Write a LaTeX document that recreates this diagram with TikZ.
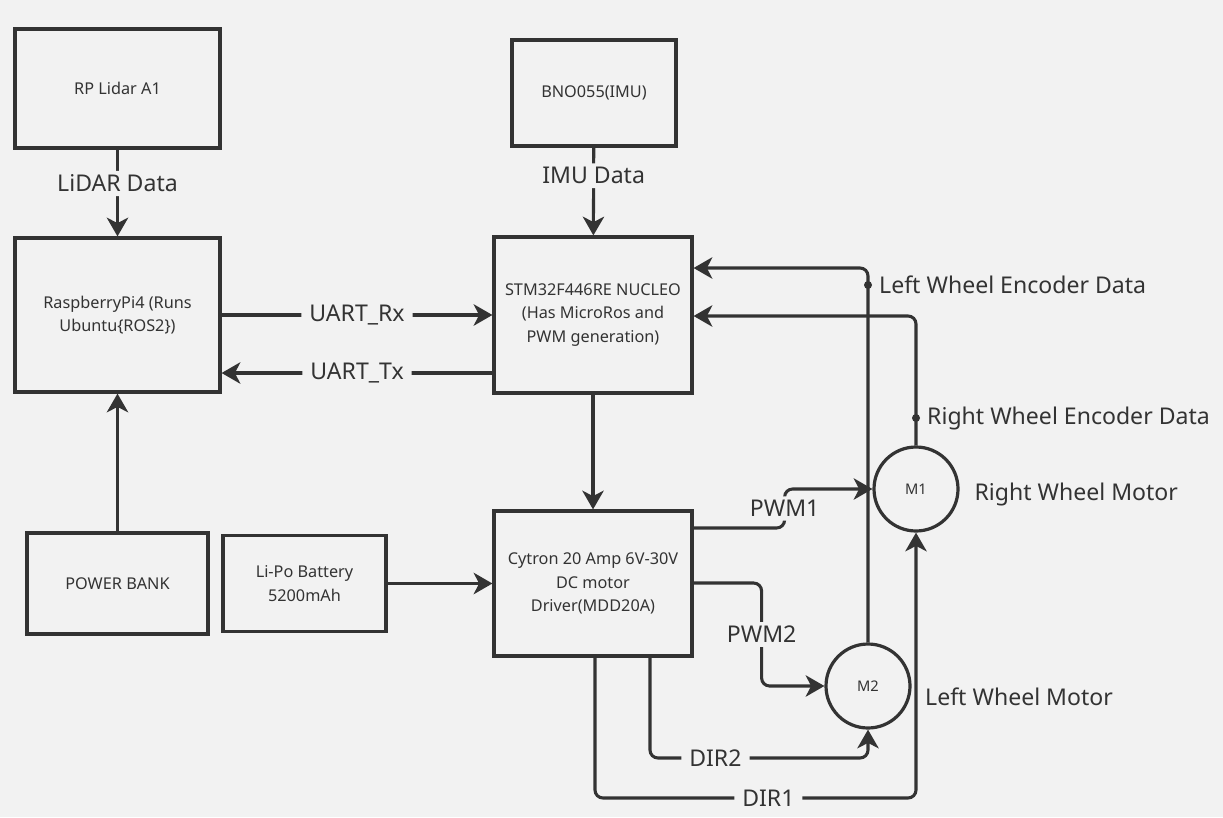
\documentclass[tikz,border=0pt]{standalone}
\usepackage{fontspec}
\setmainfont{Noto Sans}
\usetikzlibrary{arrows.meta, positioning, calc}

\definecolor{bg}{HTML}{F2F2F2}
\definecolor{ink}{HTML}{333333}

\begin{document}
\begin{tikzpicture}
  [
  x=0.75pt, y=-0.75pt,
  % blok
  block/.style = {rectangle, draw=ink, line width=2.4pt, text=ink,
    font=\fontsize{12.2}{17.5}\selectfont, align=center},
  % motor
  motor/.style = {circle, draw=ink, line width=2.4pt, text=ink,
    minimum size=63pt, inner sep=0pt, font=\fontsize{11}{12}\selectfont},
  % line
  line/.style = {draw=ink, line width=2.3pt, rounded corners=6pt,
    -{Stealth[length=14pt, width=16pt, inset=4pt]}},
  % label
  lbl/.style = {fill=bg, text=ink, inner xsep=6pt, inner ysep=3pt,
    font=\fontsize{17.3}{20}\selectfont},
  dot/.style = {circle, fill=ink, inner sep=0pt, minimum size=6pt},
  ]

  \useasboundingbox [fill=bg] (0,0) rectangle (1223,817);

  % nodes
  \node [block, minimum width=153.75pt, minimum height=89.25pt] (lidar) at (117.5,88.5) {RP Lidar A1};
  \node [block, minimum width=153.75pt, minimum height=115.5pt] (rpi) at (117.5,315) {RaspberryPi4 (Runs\\ Ubuntu\{ROS2\})};
  \node [block, minimum width=135.75pt, minimum height=75.75pt] (power) at (117.5,583.5) {POWER BANK};
  \node [block, minimum width=122.25pt, minimum height=72pt] (lipo) at (304.5,583.5) {Li-Po Battery\\ 5200mAh};
  \node [block, minimum width=123pt, minimum height=79.5pt] (bno) at (594,93) {BNO055(IMU)};
  \node [block, minimum width=148.5pt, minimum height=117pt] (stm) at (593,315) {STM32F446RE NUCLEO\\ (Has MicroRos and\\ PWM generation)};
  \node [block, minimum width=148.5pt, minimum height=108.75pt] (drv) at (593,583.5) {Cytron 20 Amp 6V-30V\\ DC motor\\ Driver(MDD20A)};
  \node [motor] (m1) at (916,489) {M1};
  \node [motor] (m2) at (868,686) {M2};

  % encoder titik
  \node [dot] (lenc) at (m2.north |- 0,285) {};
  \node [dot] (renc) at (m1.north |- 0,418) {};
  \node [lbl, fill=none, inner xsep=0pt, right=5pt of lenc] (lencl) {Left Wheel Encoder Data};
  \node [lbl, fill=none, inner xsep=0pt, right=5pt of renc] (rencl) {Right Wheel Encoder Data};
  \node [lbl, fill=none, inner xsep=0pt, right=11pt of m1, yshift=-4pt] (m1l) {Right Wheel Motor};
  \node [lbl, fill=none, inner xsep=0pt, right=10pt of m2, yshift=-8pt] (m2l) {Left Wheel Motor};

  % path
  \path [line] (lidar) -- node [lbl, pos=0.39] {LiDAR Data} (rpi);
  \path [line] (bno) -- node [lbl, pos=0.32] {IMU Data} (stm);
  \path [line] (rpi) -- node [lbl] {UART\_Rx} (stm);
  \path [line] (stm.west |- 0,373) -- node [lbl] {UART\_Tx} (rpi.east |- 0,373);
  \path [line] (power) -- (rpi);
  \path [line] (lipo) -- (drv);
  \path [line] (stm) -- (drv);
  % encoder balik ke stm
  \path [line] (m2.north) -- (lenc.center) |- (stm.east |- 0,268);
  \path [line] (m1.north) -- (renc.center) |- (stm.east |- 0,316);
  % pwm dan dir
  \path [line] (drv.east |- 0,528) -- ++(91,0) |- node [lbl, pos=0.25] {PWM1} (m1);
  \path [line] (drv.east |- 0,583) -- ++(68,0) |- node [lbl, pos=0.25] {PWM2} (m2);
  \path [line] (drv.south -| 650,0) |- node [lbl, pos=0.65] {DIR2} (m2 |- 0,758) -- (m2);
  \path [line] (drv.south -| 595,0) |- node [lbl, pos=0.77] {DIR1} (m1 |- 0,798) -- (m1);

\end{tikzpicture}
\end{document}
